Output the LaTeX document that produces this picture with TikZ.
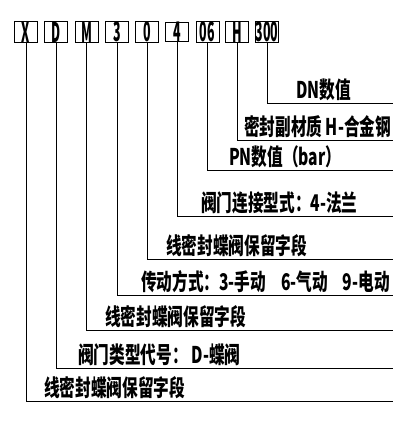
\documentclass[tikz,border=0pt]{standalone}
\usepackage{fontspec}
\newfontfamily\cjk{Noto Sans CJK SC}[FakeStretch=0.68]
\newfontfamily\boxfont{Noto Sans CJK SC}[FakeStretch=0.46]
\begin{document}
\begin{tikzpicture}[x=1pt,y=-1pt,
  codebox/.style={draw,line width=0.9pt,minimum width=23pt,minimum height=18pt,inner sep=0pt,
    font=\boxfont\bfseries\fontsize{27}{27}\selectfont},
  lbl/.style={anchor=base west,inner sep=0pt,font=\cjk\bfseries\fontsize{23}{23}\selectfont},
  conn/.style={draw,line width=0.9pt}]
\useasboundingbox (0,0) rectangle (415,428);
% code boxes
\node[codebox] (b0) at (26,32) {X};
\node[codebox] (b1) at (56,32) {D};
\node[codebox] (b2) at (86.5,32) {M};
\node[codebox] (b3) at (117,32) {3};
\node[codebox] (b4) at (147,32) {0};
\node[codebox] (b5) at (177,32) {4};
\node[codebox] (b6) at (207.5,32) {06};
\node[codebox] (b7) at (237,32) {H};
\node[codebox] (b8) at (267,32) {300};
% corners and ends
\coordinate (c8) at (267,103);   \coordinate (e8) at (393,103);
\coordinate (c7) at (237,140.7); \coordinate (e7) at (393,140.7);
\coordinate (c6) at (207.5,170); \coordinate (e6) at (393,170);
\coordinate (c5) at (177,216);   \coordinate (e5) at (393,216);
\coordinate (c4) at (147,259.5); \coordinate (e4) at (393,259.5);
\coordinate (c3) at (117,295.5); \coordinate (e3) at (393,295.5);
\coordinate (c2) at (86.5,330);  \coordinate (e2) at (393,330);
\coordinate (c1) at (56,368);    \coordinate (e1) at (393,368);
\coordinate (c0) at (26,401);    \coordinate (e0) at (393,401);
\foreach \i in {0,...,8}{
  \draw[conn] (b\i.south) -- (c\i) -- (e\i);
}
% labels
\node[lbl] (t8) at (296,98) {DN数值};
\node[lbl] (t7) at (244,135.7) {密封副材质 H-合金钢};
\node[lbl] (t6) at (229,165) {PN数值（bar）};
\node[lbl] (t5) at (201,211) {阀门连接型式：4-法兰};
\node[lbl] (t4) at (166,254.5) {线密封蝶阀保留字段};
\node[lbl] (t3) at (141,290.5) {传动方式：3-手动\hspace{15pt}6-气动\hspace{15pt}9-电动};
\node[lbl] (t2) at (105,325) {线密封蝶阀保留字段};
\node[lbl] (t1) at (78,363) {阀门类型代号：\hspace{4pt}D-蝶阀};
\node[lbl] (t0) at (44,396) {线密封蝶阀保留字段};
\end{tikzpicture}
\end{document}
